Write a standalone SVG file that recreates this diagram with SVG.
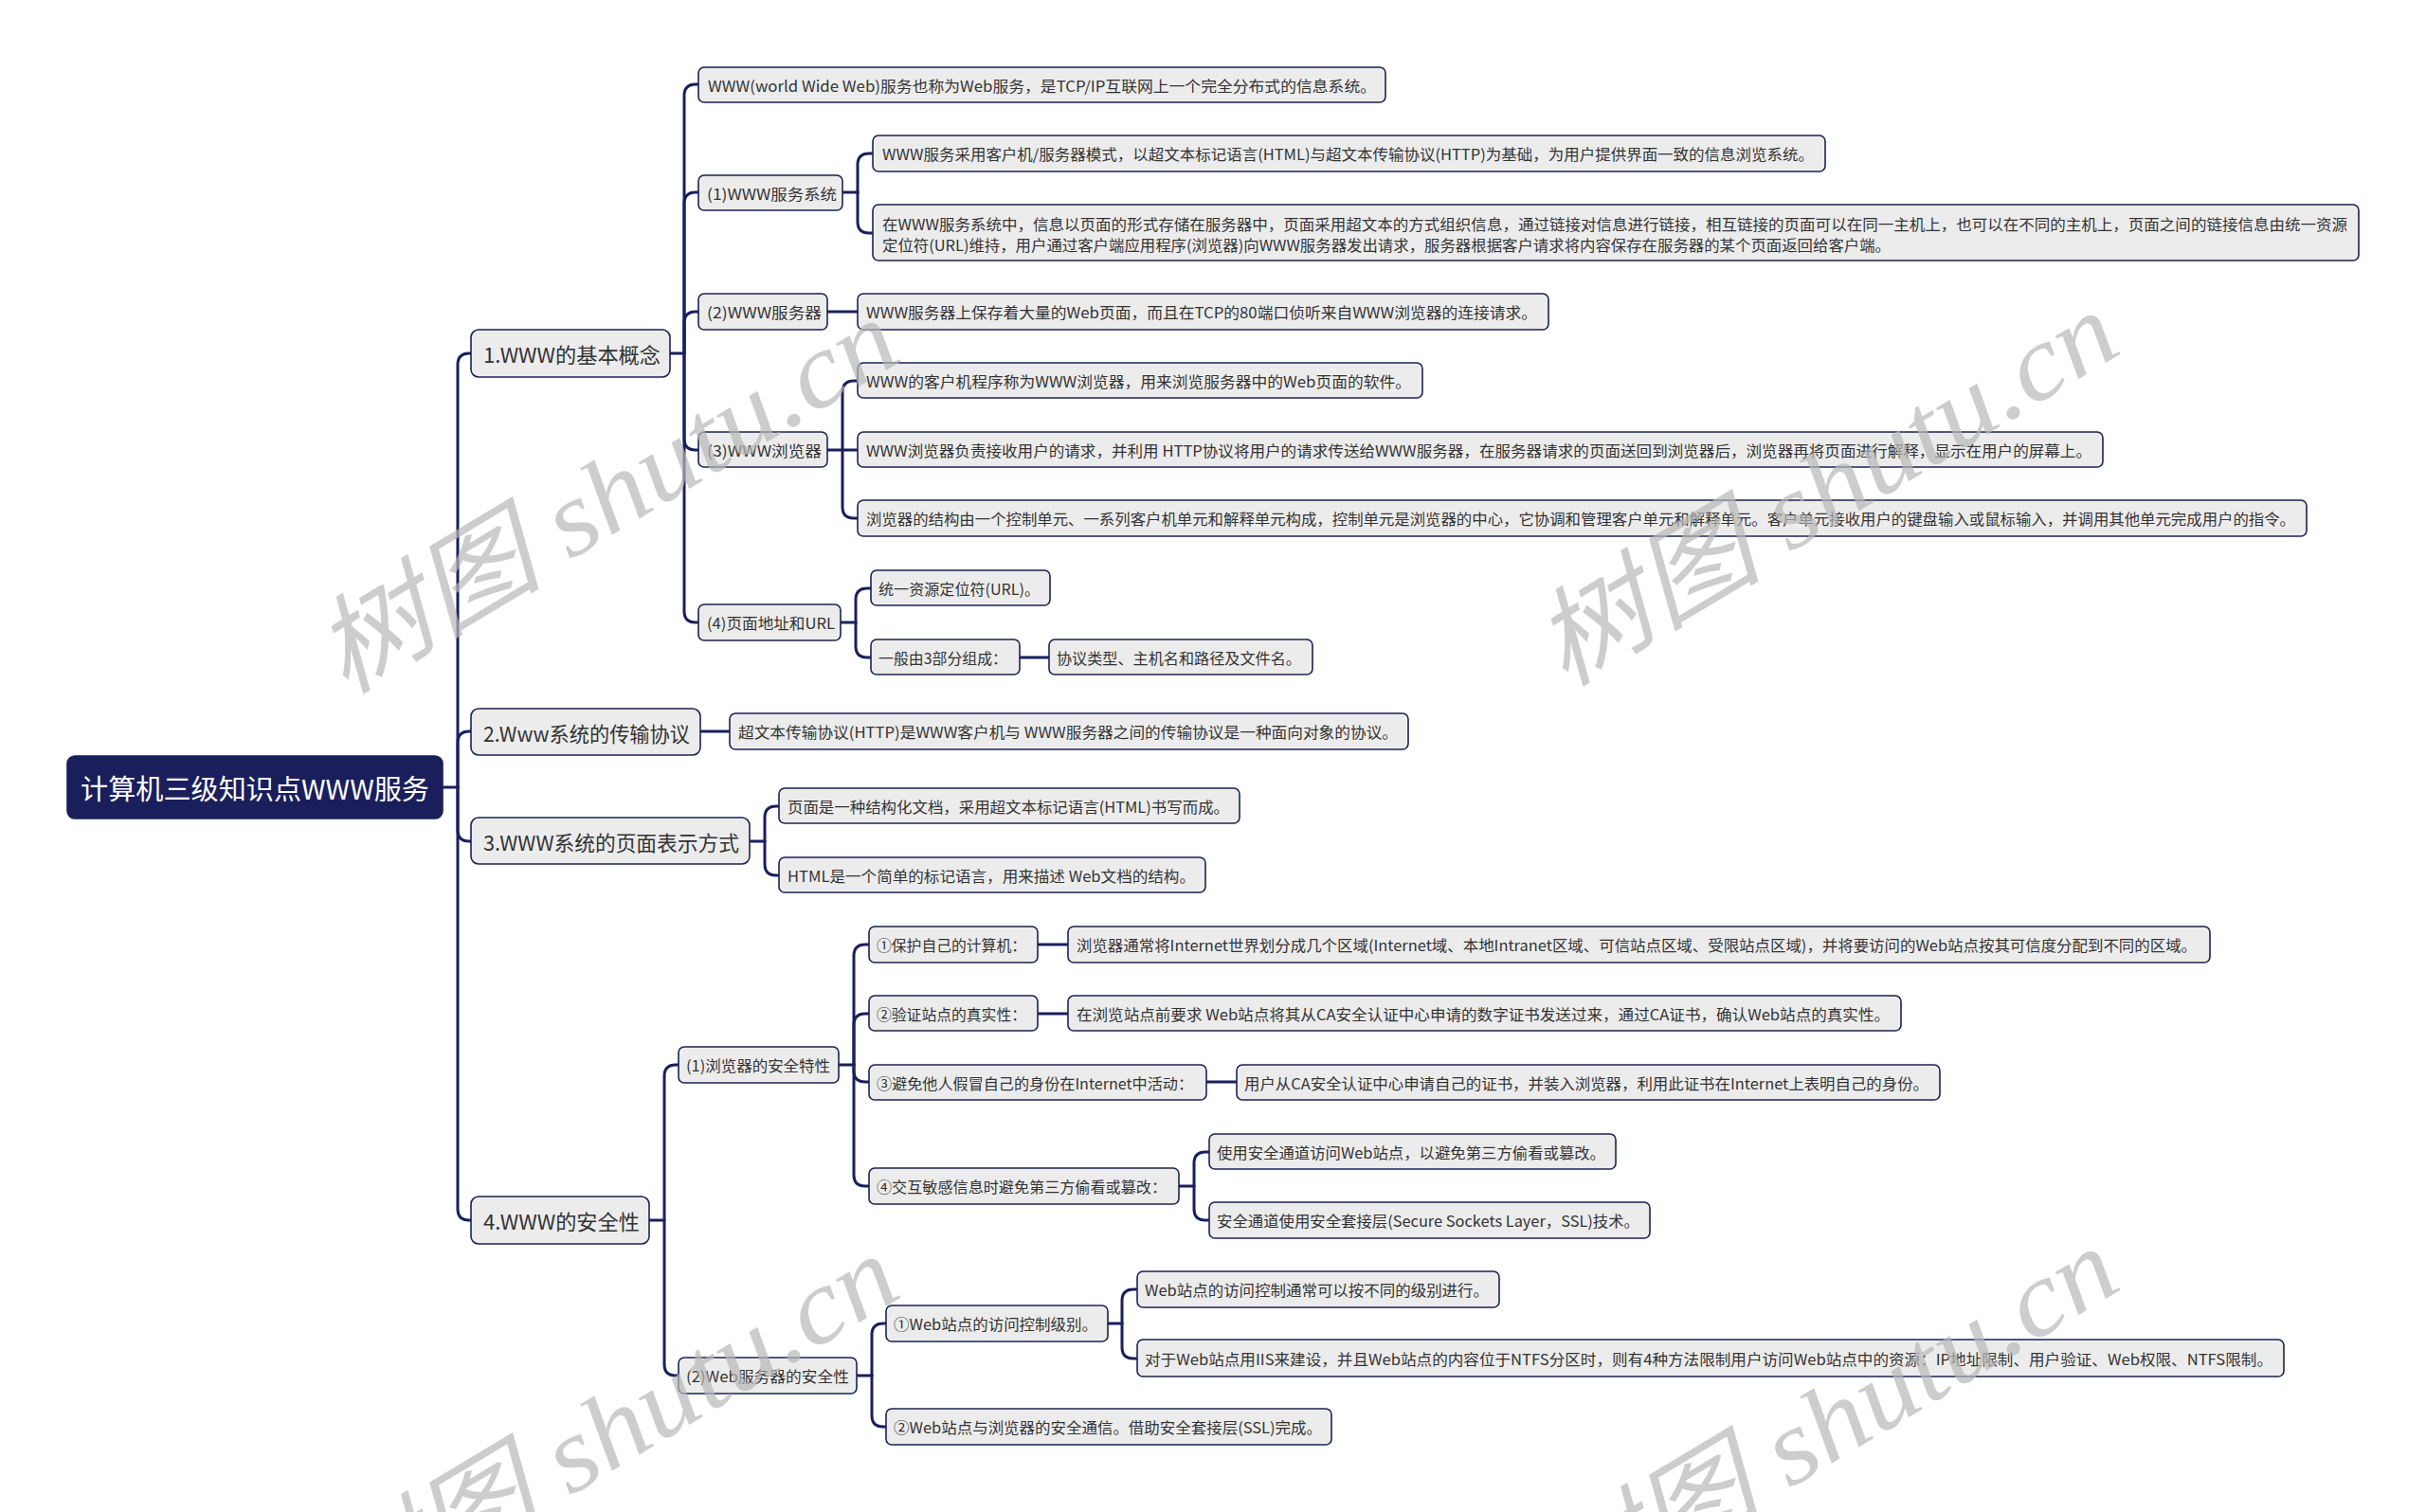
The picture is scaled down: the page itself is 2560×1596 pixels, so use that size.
<svg xmlns="http://www.w3.org/2000/svg" width="2560" height="1596" viewBox="0 0 2560 1596">
<style>
.bg{fill:#ffffff}
.ln{fill:none;stroke:#1a1f5c;stroke-width:3;stroke-linecap:round}
.box{fill:#ececec;stroke:#1c2350;stroke-width:1.6}
.rootbox{fill:#1a1f5c;stroke:#1a1f5c;stroke-width:1.6}
.t{font-family:"Noto Sans CJK SC","Liberation Sans",sans-serif;font-size:16px;fill:#333333;dominant-baseline:central}
.t1{font-family:"Noto Sans CJK SC","Liberation Sans",sans-serif;font-size:22px;fill:#333333;dominant-baseline:central}
.tr{font-family:"Noto Sans CJK SC","Liberation Sans",sans-serif;font-size:29px;fill:#ffffff;dominant-baseline:central}
.wm{font-family:"Liberation Serif","Noto Sans CJK SC",serif;font-style:italic;font-size:112px;fill:#b8b8b8;fill-opacity:0.7;text-anchor:middle;dominant-baseline:central}
</style>
<rect class="bg" x="0" y="0" width="2560" height="1596"/>
<g id="connectors">
<path class="ln" d="M467 831 H483"/>
<path class="ln" d="M483 831 V385 Q483 373 495 373 H497"/>
<path class="ln" d="M483 831 V784 Q483 772 495 772 H497"/>
<path class="ln" d="M483 831 V876 Q483 888 495 888 H497"/>
<path class="ln" d="M483 831 V1276 Q483 1288 495 1288 H497"/>
<path class="ln" d="M707 373 H722"/>
<path class="ln" d="M722 373 V101 Q722 89 734 89 H737"/>
<path class="ln" d="M722 373 V215 Q722 203 734 203 H737"/>
<path class="ln" d="M722 373 V341 Q722 329 734 329 H737"/>
<path class="ln" d="M722 373 V463 Q722 475 734 475 H737"/>
<path class="ln" d="M722 373 V645 Q722 657 734 657 H737"/>
<path class="ln" d="M889 203 H905"/>
<path class="ln" d="M905 203 V174 Q905 162 917 162 H921"/>
<path class="ln" d="M905 203 V234 Q905 246 917 246 H921"/>
<path class="ln" d="M873 329 H905"/>
<path class="ln" d="M873 475 H905"/>
<path class="ln" d="M889 475 V414 Q889 402 901 402 H905"/>
<path class="ln" d="M889 475 V535 Q889 547 901 547 H905"/>
<path class="ln" d="M887 657 H903"/>
<path class="ln" d="M903 657 V633 Q903 621 915 621 H919"/>
<path class="ln" d="M903 657 V682 Q903 694 915 694 H919"/>
<path class="ln" d="M1076 694 H1107"/>
<path class="ln" d="M739 772 H770"/>
<path class="ln" d="M791 888 H807"/>
<path class="ln" d="M807 888 V863 Q807 851 819 851 H822"/>
<path class="ln" d="M807 888 V912 Q807 924 819 924 H822"/>
<path class="ln" d="M685 1288 H701"/>
<path class="ln" d="M701 1288 V1136 Q701 1124 713 1124 H716"/>
<path class="ln" d="M701 1288 V1440 Q701 1452 713 1452 H716"/>
<path class="ln" d="M885 1124 H901"/>
<path class="ln" d="M901 1124 V1009 Q901 997 913 997 H917"/>
<path class="ln" d="M901 1124 V1082 Q901 1070 913 1070 H917"/>
<path class="ln" d="M901 1124 V1130 Q901 1142 913 1142 H917"/>
<path class="ln" d="M901 1124 V1240 Q901 1252 913 1252 H917"/>
<path class="ln" d="M1095 997 H1127"/>
<path class="ln" d="M1095 1070 H1127"/>
<path class="ln" d="M1273 1142 H1305"/>
<path class="ln" d="M1244 1252 H1260"/>
<path class="ln" d="M1260 1252 V1228 Q1260 1216 1272 1216 H1276"/>
<path class="ln" d="M1260 1252 V1276 Q1260 1288 1272 1288 H1276"/>
<path class="ln" d="M904 1452 H920"/>
<path class="ln" d="M920 1452 V1409 Q920 1397 932 1397 H935"/>
<path class="ln" d="M920 1452 V1494 Q920 1506 932 1506 H935"/>
<path class="ln" d="M1169 1397 H1184"/>
<path class="ln" d="M1184 1397 V1373 Q1184 1361 1196 1361 H1200"/>
<path class="ln" d="M1184 1397 V1422 Q1184 1434 1196 1434 H1200"/>
</g>
<g id="root">
<rect class="rootbox" x="71" y="798" width="396" height="66" rx="8"/>
<text class="tr" x="85" y="831" textLength="368" lengthAdjust="spacingAndGlyphs">计算机三级知识点WWW服务</text>
</g>
<g id="n1">
<rect class="box" x="497" y="348" width="210" height="50" rx="8"/>
<text class="t1" x="510" y="373" textLength="187" lengthAdjust="spacingAndGlyphs">1.WWW的基本概念</text>
</g>
<g id="n1a">
<rect class="box" x="737" y="71" width="725" height="37" rx="6"/>
<text class="t" x="747" y="89.5" textLength="705" lengthAdjust="spacingAndGlyphs">WWW(world Wide Web)服务也称为Web服务，是TCP/IP互联网上一个完全分布式的信息系统。</text>
</g>
<g id="n1b">
<rect class="box" x="737" y="185" width="152" height="37" rx="6"/>
<text class="t" x="746" y="203.5" textLength="137" lengthAdjust="spacingAndGlyphs">(1)WWW服务系统</text>
</g>
<g id="n1b1">
<rect class="box" x="921" y="143" width="1005" height="38" rx="6"/>
<text class="t" x="931" y="162" textLength="983" lengthAdjust="spacingAndGlyphs">WWW服务采用客户机/服务器模式，以超文本标记语言(HTML)与超文本传输协议(HTTP)为基础，为用户提供界面一致的信息浏览系统。</text>
</g>
<g id="n1b2">
<rect class="box" x="921" y="216" width="1568" height="59" rx="6"/>
<text class="t" x="931" y="236" textLength="1546" lengthAdjust="spacingAndGlyphs">在WWW服务系统中，信息以页面的形式存储在服务器中，页面采用超文本的方式组织信息，通过链接对信息进行链接，相互链接的页面可以在同一主机上，也可以在不同的主机上，页面之间的链接信息由统一资源</text>
<text class="t" x="931" y="258" textLength="1064" lengthAdjust="spacingAndGlyphs">定位符(URL)维持，用户通过客户端应用程序(浏览器)向WWW服务器发出请求，服务器根据客户请求将内容保存在服务器的某个页面返回给客户端。</text>
</g>
<g id="n1c">
<rect class="box" x="737" y="310" width="136" height="38" rx="6"/>
<text class="t" x="746" y="329" textLength="121" lengthAdjust="spacingAndGlyphs">(2)WWW服务器</text>
</g>
<g id="n1c1">
<rect class="box" x="905" y="310" width="729" height="38" rx="6"/>
<text class="t" x="914" y="329" textLength="708" lengthAdjust="spacingAndGlyphs">WWW服务器上保存着大量的Web页面，而且在TCP的80端口侦听来自WWW浏览器的连接请求。</text>
</g>
<g id="n1d">
<rect class="box" x="737" y="456" width="136" height="37" rx="6"/>
<text class="t" x="746" y="474.5" textLength="121" lengthAdjust="spacingAndGlyphs">(3)WWW浏览器</text>
</g>
<g id="n1d1">
<rect class="box" x="905" y="383" width="596" height="37" rx="6"/>
<text class="t" x="914" y="401.5" textLength="575" lengthAdjust="spacingAndGlyphs">WWW的客户机程序称为WWW浏览器，用来浏览服务器中的Web页面的软件。</text>
</g>
<g id="n1d2">
<rect class="box" x="905" y="456" width="1314" height="37" rx="6"/>
<text class="t" x="914" y="474.5" textLength="1293" lengthAdjust="spacingAndGlyphs">WWW浏览器负责接收用户的请求，并利用 HTTP协议将用户的请求传送给WWW服务器，在服务器请求的页面送回到浏览器后，浏览器再将页面进行解释，显示在用户的屏幕上。</text>
</g>
<g id="n1d3">
<rect class="box" x="905" y="528" width="1529" height="38" rx="6"/>
<text class="t" x="914" y="547" textLength="1508" lengthAdjust="spacingAndGlyphs">浏览器的结构由一个控制单元、一系列客户机单元和解释单元构成，控制单元是浏览器的中心，它协调和管理客户单元和解释单元。客户单元接收用户的键盘输入或鼠标输入，并调用其他单元完成用户的指令。</text>
</g>
<g id="n1e">
<rect class="box" x="737" y="638" width="150" height="38" rx="6"/>
<text class="t" x="746" y="657" textLength="135" lengthAdjust="spacingAndGlyphs">(4)页面地址和URL</text>
</g>
<g id="n1e1">
<rect class="box" x="919" y="602" width="189" height="37" rx="6"/>
<text class="t" x="927" y="620.5" textLength="170" lengthAdjust="spacingAndGlyphs">统一资源定位符(URL)。</text>
</g>
<g id="n1e2">
<rect class="box" x="919" y="675" width="157" height="37" rx="6"/>
<text class="t" x="927" y="693.5" textLength="136" lengthAdjust="spacingAndGlyphs">一般由3部分组成：</text>
</g>
<g id="n1e2a">
<rect class="box" x="1107" y="675" width="278" height="37" rx="6"/>
<text class="t" x="1115" y="693.5" textLength="258" lengthAdjust="spacingAndGlyphs">协议类型、主机名和路径及文件名。</text>
</g>
<g id="n2">
<rect class="box" x="497" y="748" width="242" height="49" rx="8"/>
<text class="t1" x="510" y="772.5" textLength="218" lengthAdjust="spacingAndGlyphs">2.Www系统的传输协议</text>
</g>
<g id="n2a">
<rect class="box" x="770" y="753" width="716" height="38" rx="6"/>
<text class="t" x="779" y="772" textLength="696" lengthAdjust="spacingAndGlyphs">超文本传输协议(HTTP)是WWW客户机与 WWW服务器之间的传输协议是一种面向对象的协议。</text>
</g>
<g id="n3">
<rect class="box" x="497" y="863" width="294" height="49" rx="8"/>
<text class="t1" x="510" y="887.5" textLength="270" lengthAdjust="spacingAndGlyphs">3.WWW系统的页面表示方式</text>
</g>
<g id="n3a">
<rect class="box" x="822" y="832" width="486" height="37" rx="6"/>
<text class="t" x="831" y="850.5" textLength="466" lengthAdjust="spacingAndGlyphs">页面是一种结构化文档，采用超文本标记语言(HTML)书写而成。</text>
</g>
<g id="n3b">
<rect class="box" x="822" y="905" width="450" height="37" rx="6"/>
<text class="t" x="831" y="923.5" textLength="430" lengthAdjust="spacingAndGlyphs">HTML是一个简单的标记语言，用来描述 Web文档的结构。</text>
</g>
<g id="n4">
<rect class="box" x="497" y="1263" width="188" height="50" rx="8"/>
<text class="t1" x="510" y="1288" textLength="165" lengthAdjust="spacingAndGlyphs">4.WWW的安全性</text>
</g>
<g id="n4a">
<rect class="box" x="716" y="1105" width="169" height="38" rx="6"/>
<text class="t" x="724" y="1124" textLength="152" lengthAdjust="spacingAndGlyphs">(1)浏览器的安全特性</text>
</g>
<g id="n4a1">
<rect class="box" x="917" y="978" width="178" height="38" rx="6"/>
<text class="t" x="925" y="997" textLength="158" lengthAdjust="spacingAndGlyphs">①保护自己的计算机：</text>
</g>
<g id="n4a1a">
<rect class="box" x="1127" y="978" width="1205" height="38" rx="6"/>
<text class="t" x="1136" y="997" textLength="1182" lengthAdjust="spacingAndGlyphs">浏览器通常将Internet世界划分成几个区域(Internet域、本地Intranet区域、可信站点区域、受限站点区域)，并将要访问的Web站点按其可信度分配到不同的区域。</text>
</g>
<g id="n4a2">
<rect class="box" x="917" y="1051" width="178" height="37" rx="6"/>
<text class="t" x="925" y="1069.5" textLength="158" lengthAdjust="spacingAndGlyphs">②验证站点的真实性：</text>
</g>
<g id="n4a2a">
<rect class="box" x="1127" y="1051" width="879" height="37" rx="6"/>
<text class="t" x="1136" y="1069.5" textLength="858" lengthAdjust="spacingAndGlyphs">在浏览站点前要求 Web站点将其从CA安全认证中心申请的数字证书发送过来，通过CA证书，确认Web站点的真实性。</text>
</g>
<g id="n4a3">
<rect class="box" x="917" y="1124" width="356" height="37" rx="6"/>
<text class="t" x="925" y="1142.5" textLength="334" lengthAdjust="spacingAndGlyphs">③避免他人假冒自己的身份在Internet中活动：</text>
</g>
<g id="n4a3a">
<rect class="box" x="1305" y="1124" width="742" height="37" rx="6"/>
<text class="t" x="1313" y="1142.5" textLength="722" lengthAdjust="spacingAndGlyphs">用户从CA安全认证中心申请自己的证书，并装入浏览器，利用此证书在Internet上表明自己的身份。</text>
</g>
<g id="n4a4">
<rect class="box" x="917" y="1233" width="327" height="38" rx="6"/>
<text class="t" x="925" y="1252" textLength="306" lengthAdjust="spacingAndGlyphs">④交互敏感信息时避免第三方偷看或篡改：</text>
</g>
<g id="n4a4a">
<rect class="box" x="1276" y="1197" width="429" height="37" rx="6"/>
<text class="t" x="1284" y="1215.5" textLength="410" lengthAdjust="spacingAndGlyphs">使用安全通道访问Web站点，以避免第三方偷看或篡改。</text>
</g>
<g id="n4a4b">
<rect class="box" x="1276" y="1269" width="465" height="38" rx="6"/>
<text class="t" x="1284" y="1288" textLength="446" lengthAdjust="spacingAndGlyphs">安全通道使用安全套接层(Secure Sockets Layer，SSL)技术。</text>
</g>
<g id="n4b">
<rect class="box" x="716" y="1433" width="188" height="38" rx="6"/>
<text class="t" x="724" y="1452" textLength="172" lengthAdjust="spacingAndGlyphs">(2)Web服务器的安全性</text>
</g>
<g id="n4b1">
<rect class="box" x="935" y="1378" width="234" height="38" rx="6"/>
<text class="t" x="943" y="1397" textLength="215" lengthAdjust="spacingAndGlyphs">①Web站点的访问控制级别。</text>
</g>
<g id="n4b1a">
<rect class="box" x="1200" y="1342" width="382" height="38" rx="6"/>
<text class="t" x="1208" y="1361" textLength="363" lengthAdjust="spacingAndGlyphs">Web站点的访问控制通常可以按不同的级别进行。</text>
</g>
<g id="n4b1b">
<rect class="box" x="1200" y="1414" width="1210" height="39" rx="6"/>
<text class="t" x="1208" y="1433.5" textLength="1190" lengthAdjust="spacingAndGlyphs">对于Web站点用IIS来建设，并且Web站点的内容位于NTFS分区时，则有4种方法限制用户访问Web站点中的资源：IP地址限制、用户验证、Web权限、NTFS限制。</text>
</g>
<g id="n4b2">
<rect class="box" x="935" y="1487" width="470" height="38" rx="6"/>
<text class="t" x="943" y="1506" textLength="452" lengthAdjust="spacingAndGlyphs">②Web站点与浏览器的安全通信。借助安全套接层(SSL)完成。</text>
</g>
<g id="watermark">
<text class="wm" transform="translate(640 524) rotate(-31)" textLength="690" lengthAdjust="spacingAndGlyphs">树图 shutu.cn</text>
<text class="wm" transform="translate(1927 516) rotate(-31)" textLength="690" lengthAdjust="spacingAndGlyphs">树图 shutu.cn</text>
<text class="wm" transform="translate(640 1512) rotate(-31)" textLength="690" lengthAdjust="spacingAndGlyphs">树图 shutu.cn</text>
<text class="wm" transform="translate(1927 1504) rotate(-31)" textLength="690" lengthAdjust="spacingAndGlyphs">树图 shutu.cn</text>
</g>
</svg>
